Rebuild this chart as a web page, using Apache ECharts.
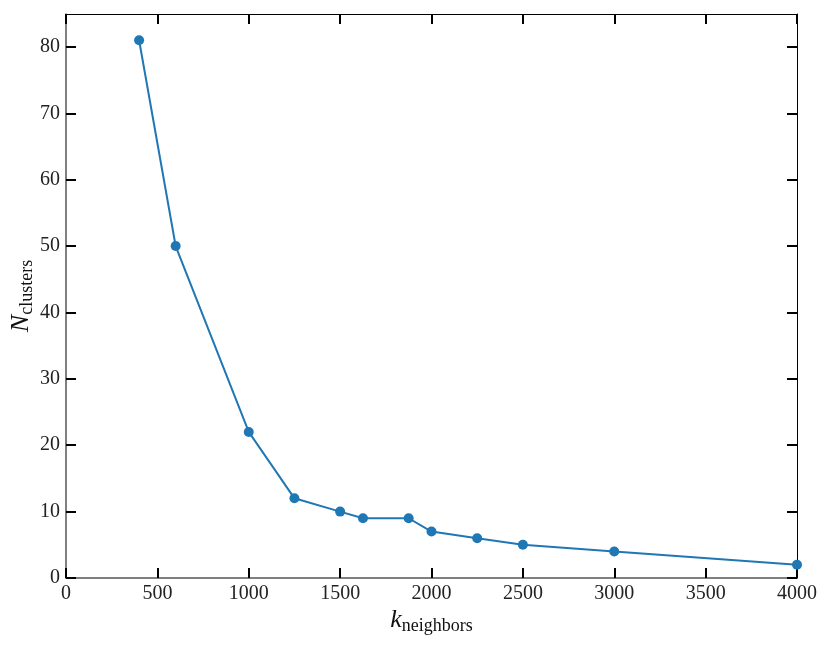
<!DOCTYPE html>
<html>
<head>
<meta charset="utf-8">
<script src="https://cdn.jsdelivr.net/npm/echarts@6/dist/echarts.min.js"></script>
<style>html,body{margin:0;padding:0;background:#fff}#c{width:830px;height:646px}</style>
</head>
<body>
<div id="c"></div>
<script>
var kNeighbors = [400, 600, 1000, 1250, 1500, 1625, 1875, 2000, 2250, 2500, 3000, 4000];
var nClusters = [81, 50, 22, 12, 10, 9, 9, 7, 6, 5, 4, 2];
var xTicks = [0, 500, 1000, 1500, 2000, 2500, 3000, 3500, 4000];
var yTicks = [0, 10, 20, 30, 40, 50, 60, 70, 80];

var FONT = 'Liberation Serif';
var pts = kNeighbors.map(function (k, i) { return [k, nClusters[i]]; });
var chart = echarts.init(document.getElementById('c'), null, {renderer: 'canvas'});

function tickAxisX(show, pos) {
  return {
    type: 'value', position: pos, min: xTicks[0], max: xTicks[xTicks.length - 1], interval: 500,
    axisLine: {show: true, onZero: false, lineStyle: {color: pos === 'bottom' ? '#555' : '#000', width: pos === 'bottom' ? 1.5 : 1}},
    axisTick: {show: true, inside: true, length: 10, lineStyle: {color: '#000', width: 2}},
    axisLabel: {show: show, color: '#222', fontFamily: FONT, fontSize: 20, margin: 6,
      formatter: function (v) { return String(v); }},
    splitLine: {show: false}
  };
}
function tickAxisY(show, pos) {
  return {
    type: 'value', position: pos, min: 0, max: 84.95, interval: 10,
    axisLine: {show: true, onZero: false, lineStyle: {color: pos === 'left' ? '#555' : '#000', width: pos === 'left' ? 1.5 : 1}},
    axisTick: {show: true, inside: true, length: 10, lineStyle: {color: '#000', width: 2},
      customValues: yTicks},
    axisLabel: {show: show, color: '#222', fontFamily: FONT, fontSize: 20, margin: 6,
      customValues: yTicks,
      formatter: function (v) { return yTicks.indexOf(v) >= 0 ? String(v) : ''; }},
    splitLine: {show: false}
  };
}

var rich = {
  i: {fontFamily: FONT, fontStyle: 'italic', fontSize: 26, color: '#111', lineHeight: 30},
  s: {fontFamily: FONT, fontSize: 18, color: '#111', padding: [12, 0, 0, 0], lineHeight: 30}
};
var xb = tickAxisX(true, 'bottom');
xb.name = '{i|k}{s|neighbors}';
xb.nameLocation = 'middle';
xb.nameGap = 27;
xb.nameMoveOverlap = false;
xb.nameTextStyle = {rich: rich};
var yl = tickAxisY(true, 'left');
yl.name = '{i|N}{s|clusters}';
yl.nameLocation = 'middle';
yl.nameGap = 30;
yl.nameMoveOverlap = false;
yl.nameRotate = 90;
yl.nameTextStyle = {rich: rich};

chart.setOption({
  animation: false,
  grid: {left: 66, right: 33, top: 14, bottom: 68, containLabel: false, outerBoundsMode: 'none'},
  xAxis: [xb, tickAxisX(false, 'top')],
  yAxis: [yl, tickAxisY(false, 'right')],
  series: [{
    type: 'line', data: pts, xAxisIndex: 0, yAxisIndex: 0,
    symbol: 'circle', symbolSize: 10, clip: true,
    lineStyle: {color: '#1f77b4', width: 2},
    itemStyle: {color: '#1f77b4'}
  }]
});
</script>
</body>
</html>
